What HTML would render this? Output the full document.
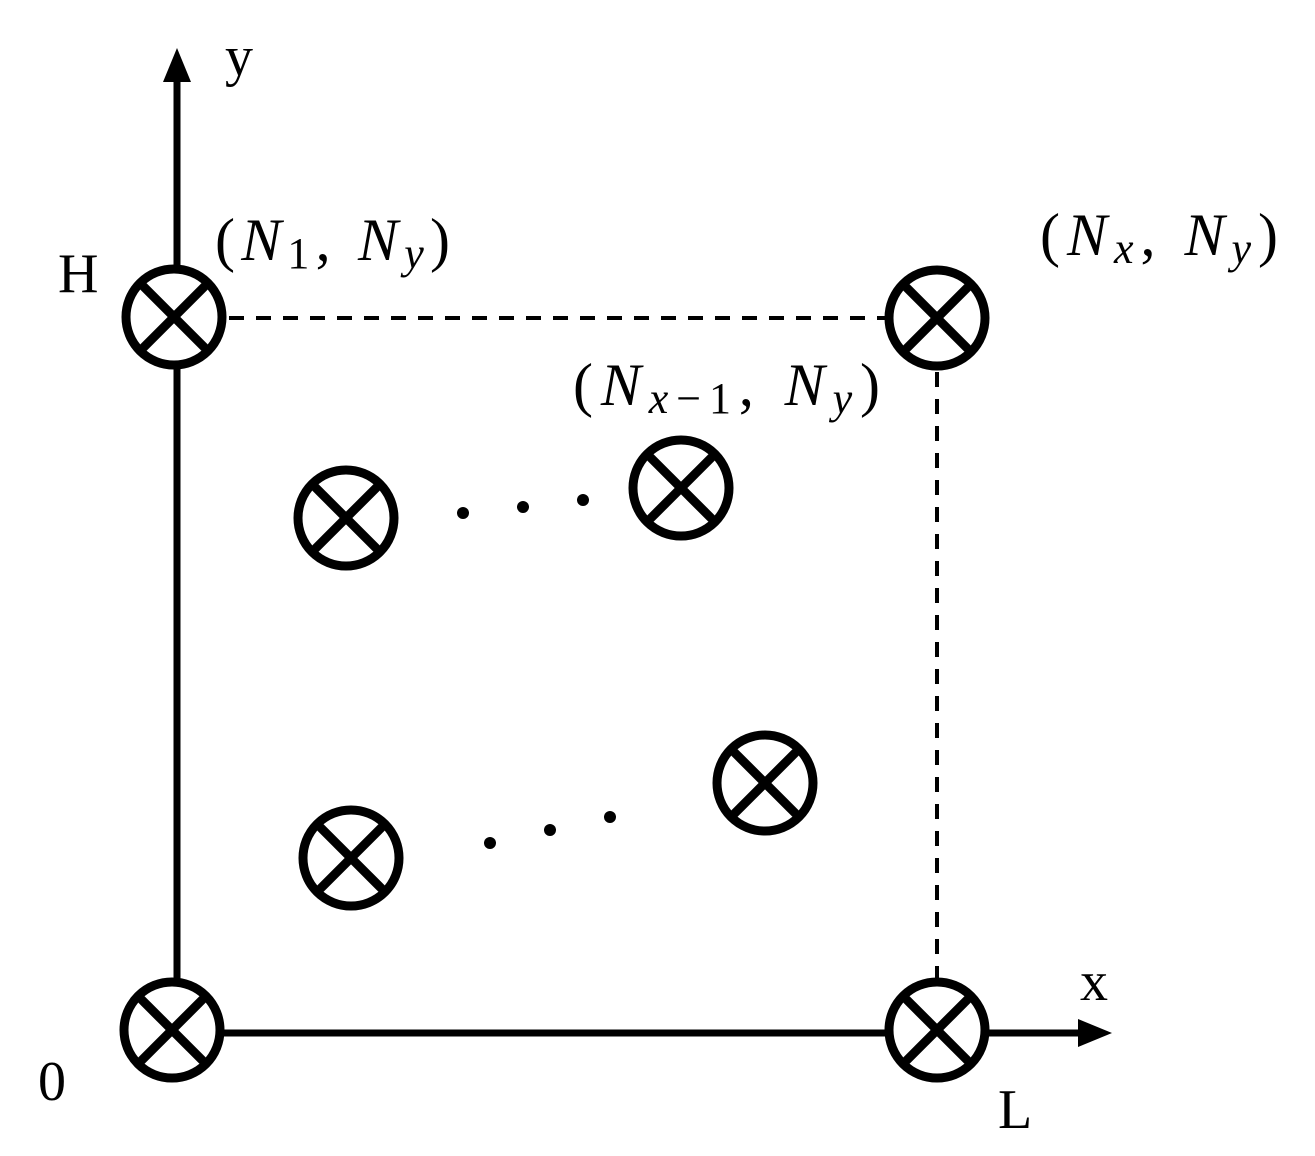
<!DOCTYPE html>
<html><head><style>body{margin:0;background:#fff}</style></head><body>
<svg width="1315" height="1151" viewBox="0 0 1315 1151" xmlns="http://www.w3.org/2000/svg">
<defs>
<g id="c"><circle r="48" fill="#fff" stroke="#000" stroke-width="9"/><line x1="-34" y1="-34" x2="34" y2="34" stroke="#000" stroke-width="9"/><line x1="34" y1="-34" x2="-34" y2="34" stroke="#000" stroke-width="9"/></g>
</defs>
<line x1="177" y1="1032" x2="177" y2="80" stroke="#000" stroke-width="7"/>
<polygon points="177,48 163,82 191,82" fill="#000"/>
<line x1="175" y1="1033" x2="1080" y2="1033" stroke="#000" stroke-width="7"/>
<polygon points="1112,1033 1078,1019 1078,1047" fill="#000"/>
<line x1="175" y1="318" x2="937" y2="318" stroke="#000" stroke-width="4" stroke-dasharray="15,12"/>
<line x1="937" y1="318" x2="937" y2="1030" stroke="#000" stroke-width="4" stroke-dasharray="15,12"/>
<use href="#c" x="174" y="317"/>
<use href="#c" x="937" y="318"/>
<use href="#c" x="172" y="1030"/>
<use href="#c" x="937" y="1030"/>
<use href="#c" x="346" y="518"/>
<use href="#c" x="681" y="488"/>
<use href="#c" x="351" y="858"/>
<use href="#c" x="765" y="783"/>
<g fill="#000"><circle cx="463" cy="513" r="6"/><circle cx="523" cy="507" r="6"/><circle cx="583" cy="500" r="6"/><circle cx="490" cy="843" r="6"/><circle cx="550" cy="830" r="6"/><circle cx="610" cy="817" r="6"/></g>
<g font-family="Liberation Serif, serif" font-size="56" fill="#000">
<text x="225" y="75">y</text>
<text x="58" y="292">H</text>
<text x="38" y="1100">0</text>
<text x="1080" y="1000">x</text>
<text x="998" y="1128">L</text>
</g>
<g font-family="Liberation Serif, serif" font-size="60" fill="#000">
<text x="215" y="260" textLength="235" lengthAdjust="spacing">(<tspan font-style="italic">N</tspan><tspan font-size="44" dy="8">1</tspan><tspan dy="-8">, </tspan><tspan font-style="italic">N</tspan><tspan font-size="44" dy="8" font-style="italic">y</tspan><tspan dy="-8">)</tspan></text>
<text x="1040" y="255" textLength="238" lengthAdjust="spacing">(<tspan font-style="italic">N</tspan><tspan font-size="44" dy="8" font-style="italic">x</tspan><tspan dy="-8">, </tspan><tspan font-style="italic">N</tspan><tspan font-size="44" dy="8" font-style="italic">y</tspan><tspan dy="-8">)</tspan></text>
<text x="573" y="405" textLength="307" lengthAdjust="spacing">(<tspan font-style="italic">N</tspan><tspan font-size="44" dy="8"><tspan font-style="italic">x</tspan>−1</tspan><tspan dy="-8">, </tspan><tspan font-style="italic">N</tspan><tspan font-size="44" dy="8" font-style="italic">y</tspan><tspan dy="-8">)</tspan></text>
</g>
</svg>
</body></html>
